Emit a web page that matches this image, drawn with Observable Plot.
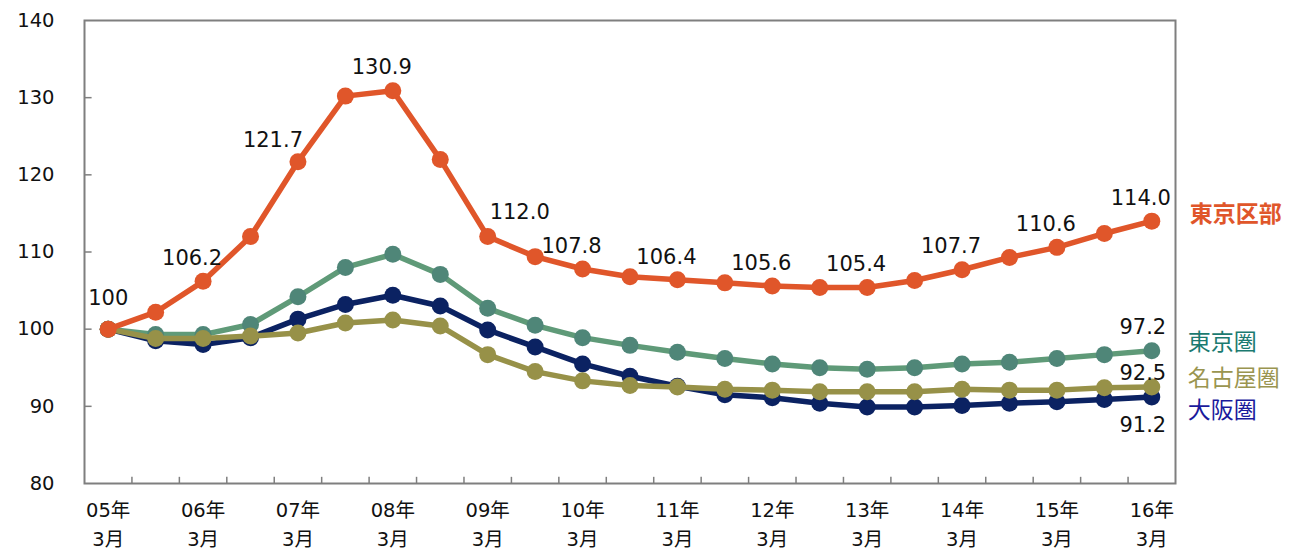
<!DOCTYPE html>
<html>
<head>
<meta charset="utf-8">
<script src="https://cdn.jsdelivr.net/npm/d3@7"></script>
<script src="https://cdn.jsdelivr.net/npm/@observablehq/plot@0.6"></script>
<style>
  html, body { margin: 0; padding: 0; background: #fff; }
  #chart svg { display: block; }
</style>
</head>
<body>
<div id="chart"></div>
<script>
// Half-yearly periods (March / September), 2005-03 .. 2016-03
const periods = ["05/03","05/09","06/03","06/09","07/03","07/09","08/03","08/09","09/03","09/09",
  "10/03","10/09","11/03","11/09","12/03","12/09","13/03","13/09","14/03","14/09","15/03","15/09","16/03"];
const tickLabels = ["05年\n3月","06年\n3月","07年\n3月","08年\n3月","09年\n3月","10年\n3月",
  "11年\n3月","12年\n3月","13年\n3月","14年\n3月","15年\n3月","16年\n3月"];
const yTicks = [80, 90, 100, 110, 120, 130, 140];

const seriesNames = ["東京区部", "東京圏", "名古屋圏", "大阪圏"];
const tokyoWards = [100, 102.2, 106.2, 112.0, 121.7, 130.2, 130.9, 122.0, 112.0, 109.4, 107.8, 106.8,
  106.4, 106.0, 105.6, 105.4, 105.4, 106.3, 107.7, 109.3, 110.6, 112.4, 114.0];
const tokyoArea = [100, 99.3, 99.3, 100.6, 104.2, 108.0, 109.7, 107.1, 102.7, 100.5, 98.9, 97.9,
  97.0, 96.2, 95.5, 95.0, 94.8, 95.0, 95.5, 95.7, 96.2, 96.7, 97.2];
const nagoyaArea = [100, 98.8, 98.8, 99.1, 99.5, 100.8, 101.2, 100.4, 96.7, 94.5, 93.3, 92.7,
  92.5, 92.2, 92.1, 91.9, 91.9, 91.9, 92.2, 92.1, 92.1, 92.4, 92.5];
const osakaArea = [100, 98.5, 98.0, 98.9, 101.3, 103.2, 104.4, 103.0, 99.9, 97.7, 95.5, 93.9,
  92.6, 91.5, 91.1, 90.4, 89.9, 89.9, 90.1, 90.4, 90.6, 90.9, 91.2];

// which points of 東京区部 carry a value label
const wardLabelIdx = [0, 2, 4, 6, 8, 10, 12, 14, 16, 18, 20, 22];

const num = "DejaVu Sans, Noto Sans CJK JP, sans-serif";
const cjk = "Noto Sans CJK JP, DejaVu Sans, sans-serif";

const colors = {
  ward: "#e0562a",
  tokyoLine: "#5f9a78", tokyoDot: "#4f8678", tokyoText: "#1b7a70",
  nagoya: "#979148", nagoyaText: "#9a9550",
  osaka: "#0b2262", osakaText: "#1a1a9c"
};

const rows = (vals) => vals.map((v, i) => ({i, v}));
const W = rows(tokyoWards), T = rows(tokyoArea), N = rows(nagoyaArea), O = rows(osakaArea);
const last = periods.length - 1;
const bounds = periods.slice(1).map((_, i) => i + 0.5);
const tickIdx = periods.map((p, i) => i).filter(i => periods[i].endsWith("/03"));

const lbl = (arr, idxs) => idxs.map(i => ({i, v: arr[i], t: i === 0 ? "100" : arr[i].toFixed(1)}));
const wl = lbl(tokyoWards, wardLabelIdx);
const wlDefault = wl.filter(d => ![0, 4, 8].includes(d.i));

const chart = Plot.plot({
  width: 1289,
  height: 554,
  marginLeft: 84,
  marginRight: 114,
  marginTop: 20,
  marginBottom: 71,
  x: {type: "linear", domain: [-0.5, last + 0.5], axis: null},
  y: {domain: [80, 140], axis: null},
  style: {fontFamily: num, background: "#fff"},
  marks: [
    Plot.frame({stroke: "#7f7f7f", strokeWidth: 2}),
    // inward tick marks
    Plot.ruleX(bounds, {x: d => d, y1: 80, y2: 80 + 0.8, stroke: "#7f7f7f", strokeWidth: 1.5}),
    Plot.ruleY(yTicks.slice(1, -1), {y: d => d, x1: -0.5, x2: -0.5 + 0.16, stroke: "#7f7f7f", strokeWidth: 1.5}),
    // axis labels
    Plot.text(yTicks, {x: -0.5, y: d => d, text: d => String(d), textAnchor: "end", dx: -30,
      fontSize: 19.5, fill: "#111", fontFamily: num}),
    Plot.text(tickIdx, {x: d => d, y: 80, text: (d, k) => tickLabels[k], dy: 39, lineAnchor: "middle",
      lineHeight: 1.5, fontSize: 19.5, fill: "#111", fontFamily: num}),
    // series
    Plot.line(O, {x: "i", y: "v", stroke: colors.osaka, strokeWidth: 5.5}),
    Plot.dot(O, {x: "i", y: "v", r: 8.5, fill: colors.osaka}),
    Plot.line(T, {x: "i", y: "v", stroke: colors.tokyoLine, strokeWidth: 5.5}),
    Plot.dot(T, {x: "i", y: "v", r: 8.5, fill: colors.tokyoDot}),
    Plot.line(N, {x: "i", y: "v", stroke: colors.nagoya, strokeWidth: 5.5}),
    Plot.dot(N, {x: "i", y: "v", r: 8.5, fill: colors.nagoya}),
    Plot.line(W, {x: "i", y: "v", stroke: colors.ward, strokeWidth: 5.5}),
    Plot.dot(W, {x: "i", y: "v", r: 8.5, fill: colors.ward}),
    // value labels
    Plot.text(wlDefault, {x: "i", y: "v", text: "t", dx: -11, dy: -23, fontSize: 21, fill: "#111"}),
    Plot.text(wl.filter(d => d.i === 0), {x: "i", y: "v", text: "t", dx: 0, dy: -31, fontSize: 21, fill: "#111"}),
    Plot.text(wl.filter(d => d.i === 4), {x: "i", y: "v", text: "t", dx: -25, dy: -21, fontSize: 21, fill: "#111"}),
    Plot.text(wl.filter(d => d.i === 8), {x: "i", y: "v", text: "t", dx: 32, dy: -24, fontSize: 21, fill: "#111"}),
    Plot.text([T[last]], {x: "i", y: "v", text: d => d.v.toFixed(1), dx: -9, dy: -24, fontSize: 21, fill: "#111"}),
    Plot.text([N[last]], {x: "i", y: "v", text: d => d.v.toFixed(1), dx: -9, dy: -14, fontSize: 21, fill: "#111"}),
    Plot.text([O[last]], {x: "i", y: "v", text: d => d.v.toFixed(1), dx: -9, dy: 28, fontSize: 21, fill: "#111"}),
    // series names
    Plot.text([W[last]], {x: "i", y: "v", text: () => seriesNames[0], textAnchor: "start", dx: 38, dy: -7,
      fontSize: 23, fontWeight: "bold", fill: colors.ward, fontFamily: cjk}),
    Plot.text([T[last]], {x: "i", y: "v", text: () => seriesNames[1], textAnchor: "start", dx: 36, dy: -8,
      fontSize: 23, fill: colors.tokyoText, fontFamily: cjk}),
    Plot.text([N[last]], {x: "i", y: "v", text: () => seriesNames[2], textAnchor: "start", dx: 36, dy: -8,
      fontSize: 23, fill: colors.nagoyaText, fontFamily: cjk}),
    Plot.text([O[last]], {x: "i", y: "v", text: () => seriesNames[3], textAnchor: "start", dx: 36, dy: 14,
      fontSize: 23, fill: colors.osakaText, fontFamily: cjk})
  ]
});
document.getElementById("chart").appendChild(chart);
</script>
</body>
</html>
